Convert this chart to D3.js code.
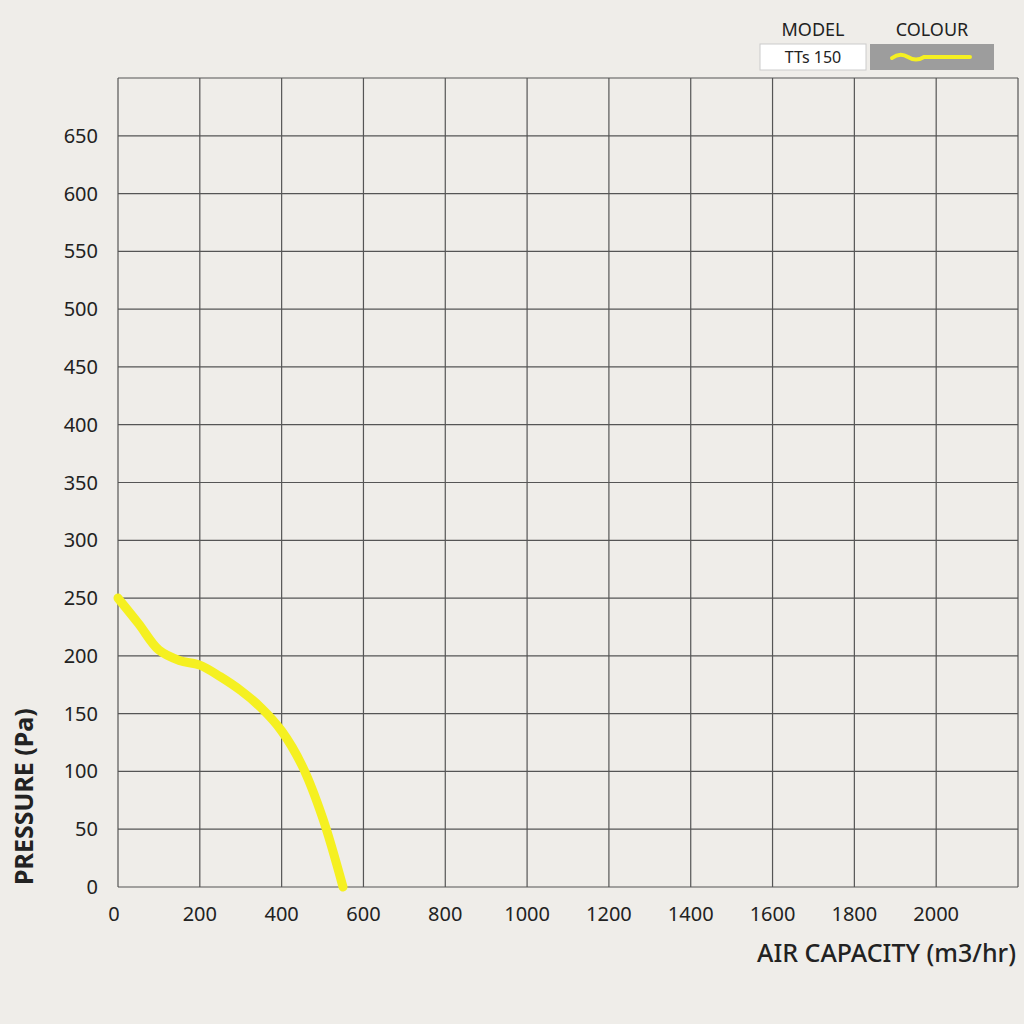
<!DOCTYPE html>
<html>
<head>
<meta charset="utf-8">
<script src="https://cdn.jsdelivr.net/npm/d3@7"></script>
<style>
body { margin: 0; background: #efede9; }
text { font-family: "Noto Sans", "DejaVu Sans", sans-serif; fill: #222; }
</style>
</head>
<body>
<svg id="chart" width="1024" height="1024"></svg>
<script>
// chart data
var xTicks = [0, 200, 400, 600, 800, 1000, 1200, 1400, 1600, 1800, 2000];
var yTicks = [0, 50, 100, 150, 200, 250, 300, 350, 400, 450, 500, 550, 600, 650];
var airCapacity = [0, 50, 100, 150, 200, 250, 300, 350, 400, 450, 500, 550];
var pressure = [250, 228, 205, 196, 192, 182, 170, 155, 135, 105, 60, 0];
var modelName = "TTs 150";

var svg = d3.select("#chart");
var mLeft = 118, mRight = 1018, mTop = 78, mBottom = 887;

var x = d3.scaleLinear().domain([0, 2200]).range([mLeft, mRight]);
var y = d3.scaleLinear().domain([0, 700]).range([mBottom, mTop]);

// grid
var gridX = d3.range(0, 2201, 200);
var gridY = d3.range(0, 701, 50);
svg.append("g").selectAll("line").data(gridX).enter().append("line")
    .attr("x1", function(d){ return x(d); }).attr("x2", function(d){ return x(d); })
    .attr("y1", mTop).attr("y2", mBottom)
    .attr("stroke", "#555").attr("stroke-width", 1.2);
svg.append("g").selectAll("line").data(gridY).enter().append("line")
    .attr("x1", mLeft).attr("x2", mRight)
    .attr("y1", function(d){ return y(d); }).attr("y2", function(d){ return y(d); })
    .attr("stroke", "#555").attr("stroke-width", 1.2);

// tick labels
svg.append("g").selectAll("text").data(yTicks).enter().append("text")
    .attr("x", 98).attr("y", function(d){ return y(d) + 7; })
    .attr("text-anchor", "end").attr("font-size", 20)
    .text(function(d){ return d; });
svg.append("g").selectAll("text").data(xTicks).enter().append("text")
    .attr("x", function(d){ return d == 0 ? x(d) - 4 : x(d); }).attr("y", 921)
    .attr("text-anchor", "middle").attr("font-size", 20)
    .text(function(d){ return d; });

// axis titles
svg.append("text").attr("x", 1016).attr("y", 962).attr("text-anchor", "end")
    .attr("font-size", 25).attr("font-weight", 500).text("AIR CAPACITY (m3/hr)");
svg.append("text").attr("transform", "translate(33,885) rotate(-90)")
    .attr("font-size", 25).attr("font-weight", "bold").text("PRESSURE (Pa)");

// curve
var line = d3.line()
    .x(function(d, i){ return x(airCapacity[i]); })
    .y(function(d){ return y(d); })
    .curve(d3.curveCatmullRom);
svg.append("path").datum(pressure).attr("d", line)
    .attr("fill", "none").attr("stroke", "#f5f021").attr("stroke-width", 9)
    .attr("stroke-linecap", "round");

// legend
svg.append("text").attr("x", 813).attr("y", 36).attr("text-anchor", "middle")
    .attr("font-size", 18).text("MODEL");
svg.append("text").attr("x", 932).attr("y", 36).attr("text-anchor", "middle")
    .attr("font-size", 18).text("COLOUR");
svg.append("rect").attr("x", 760).attr("y", 44).attr("width", 106).attr("height", 26)
    .attr("fill", "#fff").attr("stroke", "#ccc");
svg.append("text").attr("x", 813).attr("y", 63).attr("text-anchor", "middle")
    .attr("font-size", 16).text(modelName);
svg.append("rect").attr("x", 870).attr("y", 44).attr("width", 124).attr("height", 26)
    .attr("fill", "#9d9d9d");
svg.append("path").attr("d", "M892,58 Q900,52 908,57 T924,57 L970,57")
    .attr("fill", "none").attr("stroke", "#f5f021").attr("stroke-width", 4)
    .attr("stroke-linecap", "round");
</script>
</body>
</html>
